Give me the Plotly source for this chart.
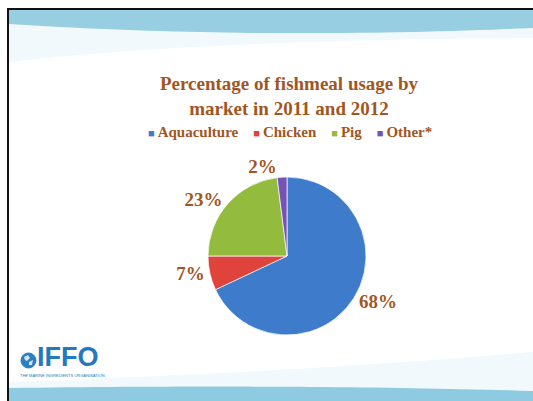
import plotly.graph_objects as go

# Fishmeal usage share by market (2011-2012)
markets = ["Aquaculture", "Chicken", "Pig", "Other*"]
shares = [68, 7, 23, 2]
slice_colors = ["#3E7BCB", "#E0433C", "#93BC3F", "#7652B6"]

title_lines = ["Percentage of fishmeal usage by", "market in 2011 and 2012"]

W, H = 533, 401
TEXT_BROWN = "#A2561F"
SERIF = "Liberation Serif"


def px(x):
    return x / W


def py(y):
    return 1 - y / H


def path(points, close=True):
    d = "M " + " L ".join(f"{px(x):.4f},{py(y):.4f}" for x, y in points)
    return d + (" Z" if close else "")


def curve_band(top, edge, steps=40):
    """Closed polygon between a flat edge and a smooth quadratic edge."""
    (x0, y0), (xc, yc), (x1, y1) = edge
    pts = []
    for i in range(steps + 1):
        t = i / steps
        x = (1 - t) ** 2 * x0 + 2 * (1 - t) * t * xc + t ** 2 * x1
        y = (1 - t) ** 2 * y0 + 2 * (1 - t) * t * yc + t ** 2 * y1
        pts.append((x, y))
    return pts + top


fig = go.Figure()

fig.add_trace(
    go.Pie(
        labels=markets,
        values=shares,
        sort=False,
        direction="clockwise",
        rotation=0,
        marker=dict(colors=slice_colors, line=dict(color="rgba(255,255,255,0.7)", width=1)),
        texttemplate="%{value}%",
        textposition="outside",
        outsidetextfont=dict(family=SERIF, size=19, color=TEXT_BROWN, weight="bold"),
        domain=dict(x=[px(208), px(366)], y=[py(335), py(177)]),
        showlegend=False,
        hoverinfo="label+percent",
    )
)

shapes = []
# pale wash under the top band
shapes.append(dict(type="path", xref="paper", yref="paper", layer="below",
                   path=path(curve_band([(533, 10), (9, 10)], [(9, 62), (200, 40), (533, 38)])),
                   fillcolor="#F2F9FC", line=dict(width=0)))
# top blue band
shapes.append(dict(type="path", xref="paper", yref="paper", layer="below",
                   path=path(curve_band([(533, 10), (9, 10)], [(9, 24), (260, 40), (533, 28)])),
                   fillcolor="#98CEE1", line=dict(width=0)))
# pale wash above the bottom band
shapes.append(dict(type="path", xref="paper", yref="paper", layer="below",
                   path=path(curve_band([(533, 401), (9, 401)], [(9, 382), (300, 372), (533, 352)])),
                   fillcolor="#F2F9FC", line=dict(width=0)))
# bottom blue band
shapes.append(dict(type="path", xref="paper", yref="paper", layer="below",
                   path=path(curve_band([(533, 401), (9, 401)], [(9, 388), (300, 384), (533, 391)])),
                   fillcolor="#8FCBE0", line=dict(width=0)))
# slide frame (left and top edges)
shapes.append(dict(type="line", xref="paper", yref="paper",
                   x0=px(8), x1=px(8), y0=py(8), y1=0, line=dict(color="#111111", width=2)))
shapes.append(dict(type="line", xref="paper", yref="paper",
                   x0=px(8), x1=1, y0=py(9), y1=py(9), line=dict(color="#111111", width=2)))
# logo globe
shapes.append(dict(type="circle", xref="paper", yref="paper",
                   x0=px(21), x1=px(36), y0=py(368), y1=py(353),
                   fillcolor="#2B7EC2", line=dict(color="#2B7EC2", width=1)))
shapes.append(dict(type="path", xref="paper", yref="paper",
                   path=path([(24, 357), (28, 355), (30, 358), (27, 361), (25, 360)]),
                   fillcolor="#CFE6F5", line=dict(width=0)))
shapes.append(dict(type="path", xref="paper", yref="paper",
                   path=path([(29, 362), (33, 360), (32, 365), (29, 365)]),
                   fillcolor="#CFE6F5", line=dict(width=0)))

legend_text = "\u00a0\u00a0\u00a0\u00a0".join(
    f"<span style='color:{c};font-size:11px'>■</span>\u2009{m}" for m, c in zip(markets, slice_colors)
)

annotations = [
    dict(text=legend_text, x=px(290), y=py(132), xref="paper", yref="paper",
         showarrow=False, xanchor="center", yanchor="middle",
         font=dict(family=SERIF, size=15, color=TEXT_BROWN, weight="bold")),
    dict(text="IFFO", x=px(36), y=py(373), xref="paper", yref="paper",
         showarrow=False, xanchor="left", yanchor="bottom", borderpad=0,
         font=dict(family="Liberation Sans", size=27, color="#2379C0", weight="bold")),
    dict(text="THE MARINE INGREDIENTS ORGANISATION", x=px(62), y=py(372), xref="paper", yref="paper",
         showarrow=False, xanchor="center", yanchor="top", borderpad=0,
         font=dict(family="Liberation Sans", size=4, color="#2379C0")),
]

fig.update_layout(
    width=W,
    height=H,
    margin=dict(l=0, r=0, t=0, b=0),
    paper_bgcolor="white",
    plot_bgcolor="white",
    title=dict(
        text="<br>".join(title_lines),
        x=px(289),
        xanchor="center",
        y=py(90),
        yanchor="top",
        yref="container",
        font=dict(family=SERIF, size=19, color=TEXT_BROWN, weight="bold"),
    ),
    shapes=shapes,
    annotations=annotations,
)

fig.write_html("out.html")
